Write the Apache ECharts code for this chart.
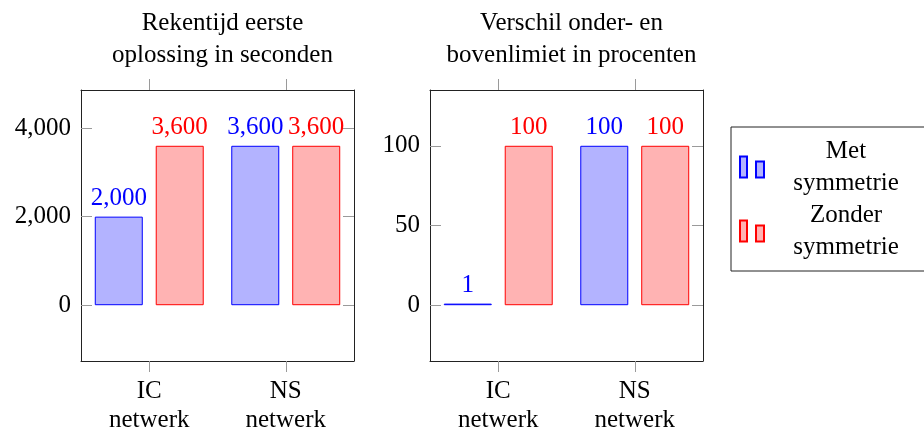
<!DOCTYPE html>
<html>
<head>
<meta charset="utf-8">
<script src="https://cdn.jsdelivr.net/npm/echarts@6/dist/echarts.min.js"></script>
<style>
html,body{margin:0;padding:0;background:#fff;}
#chart{width:924px;height:435px;}
</style>
</head>
<body>
<div id="chart"></div>
<script>
// ---- data ----
const categories = ['IC netwerk', 'NS netwerk'];
const seriesNames = ['Met symmetrie', 'Zonder symmetrie'];
const timeMet = [2000, 3600];
const timeZonder = [3600, 3600];
const gapMet = [1, 100];
const gapZonder = [100, 100];
const timeTicks = [0, 2000, 4000];
const gapTicks = [0, 50, 100];
const titles = ['Rekentijd eerste\noplossing in seconden', 'Verschil onder- en\nbovenlimiet in procenten'];

// ---- styling ----
const FONT = '"Liberation Serif", "Times New Roman", serif';
const FS = 25;
const BLUE = '#0000ff', BLUE_FILL = '#b3b3ff';
const RED = '#ff0000', RED_FILL = '#ffb3b3';
const TICK = '#9a9a9a';
const AXIS = '#222';

const grids = [
  { left: 81, top: 90, width: 273, height: 273 },
  { left: 430, top: 90, width: 273, height: 273 }
];
const yRanges = [[-1260, 4860], [-35, 135]];
const yTicks = [timeTicks, gapTicks];

function fmt(v) { return Number(v).toLocaleString('en-US'); }

const xAxes = [], yAxes = [];
grids.forEach((g, i) => {
  ['bottom', 'top'].forEach(pos => {
    xAxes.push({
      type: 'category', gridIndex: i, position: pos, data: categories,
      axisLine: { show: true, onZero: false, lineStyle: { color: AXIS, width: 1 } },
      axisTick: { show: true, alignWithLabel: true, inside: false, length: 11, lineStyle: { color: TICK, width: 1 } },
      axisLabel: {
        show: pos === 'bottom',
        margin: 16, fontFamily: FONT, fontSize: FS, color: '#000', lineHeight: 29,
        formatter: v => v.replace(' ', '\n')
      },
      splitLine: { show: false }
    });
  });
  ['left', 'right'].forEach(pos => {
    yAxes.push({
      type: 'value', gridIndex: i, position: pos, min: yRanges[i][0], max: yRanges[i][1],
      axisLine: { show: true, onZero: false, lineStyle: { color: AXIS, width: 1 } },
      axisTick: { show: true, inside: true, length: 11, customValues: yTicks[i], lineStyle: { color: TICK, width: 1 } },
      axisLabel: {
        show: pos === 'left', customValues: yTicks[i], margin: 10,
        fontFamily: FONT, fontSize: FS, color: '#000', formatter: fmt
      },
      splitLine: { show: false }
    });
  });
});

function barSeries(name, data, gi, stroke, fill) {
  return {
    type: 'bar', name: name, data: data,
    xAxisIndex: gi * 2, yAxisIndex: gi * 2,
    barWidth: 48, barGap: '27%',
    itemStyle: { color: fill, borderColor: stroke, borderWidth: 1 },
    label: {
      show: true, position: 'top', distance: 6, color: stroke,
      fontFamily: FONT, fontSize: FS, formatter: p => fmt(p.value)
    },
    emphasis: { disabled: true }
  };
}

const option = {
  animation: false,
  backgroundColor: '#fff',
  title: titles.map((t, i) => ({
    text: t, left: grids[i].left + grids[i].width / 2, top: 2, textAlign: 'center',
    textStyle: { fontFamily: FONT, fontSize: FS, fontWeight: 'normal', color: '#000', lineHeight: 32 }
  })),
  legend: {
    orient: 'vertical', left: 731, top: 127,
    padding: [8, 8, 8, 8], itemGap: 0,
    itemWidth: 24, itemHeight: 21,
    icon: 'path://M0,0h7v21h-7z M16,5h8v16h-8z',
    backgroundColor: '#fff', borderColor: '#222', borderWidth: 1,
    data: seriesNames,
    formatter: n => n.split(' ').map(w => '{c|' + w + '}').join('\n'),
    textStyle: {
      fontFamily: FONT, fontSize: FS, color: '#000', lineHeight: 32,
      rich: { c: { width: 154, align: 'center', fontFamily: FONT, fontSize: FS, lineHeight: 32 } }
    }
  },
  grid: grids.map(g => Object.assign({ containLabel: false, show: false }, g)),
  xAxis: xAxes,
  yAxis: yAxes,
  series: [
    barSeries(seriesNames[0], timeMet, 0, BLUE, BLUE_FILL),
    barSeries(seriesNames[1], timeZonder, 0, RED, RED_FILL),
    barSeries(seriesNames[0], gapMet, 1, BLUE, BLUE_FILL),
    barSeries(seriesNames[1], gapZonder, 1, RED, RED_FILL)
  ]
};

const chart = echarts.init(document.getElementById('chart'), null, { renderer: 'canvas' });
chart.setOption(option);
</script>
</body>
</html>
